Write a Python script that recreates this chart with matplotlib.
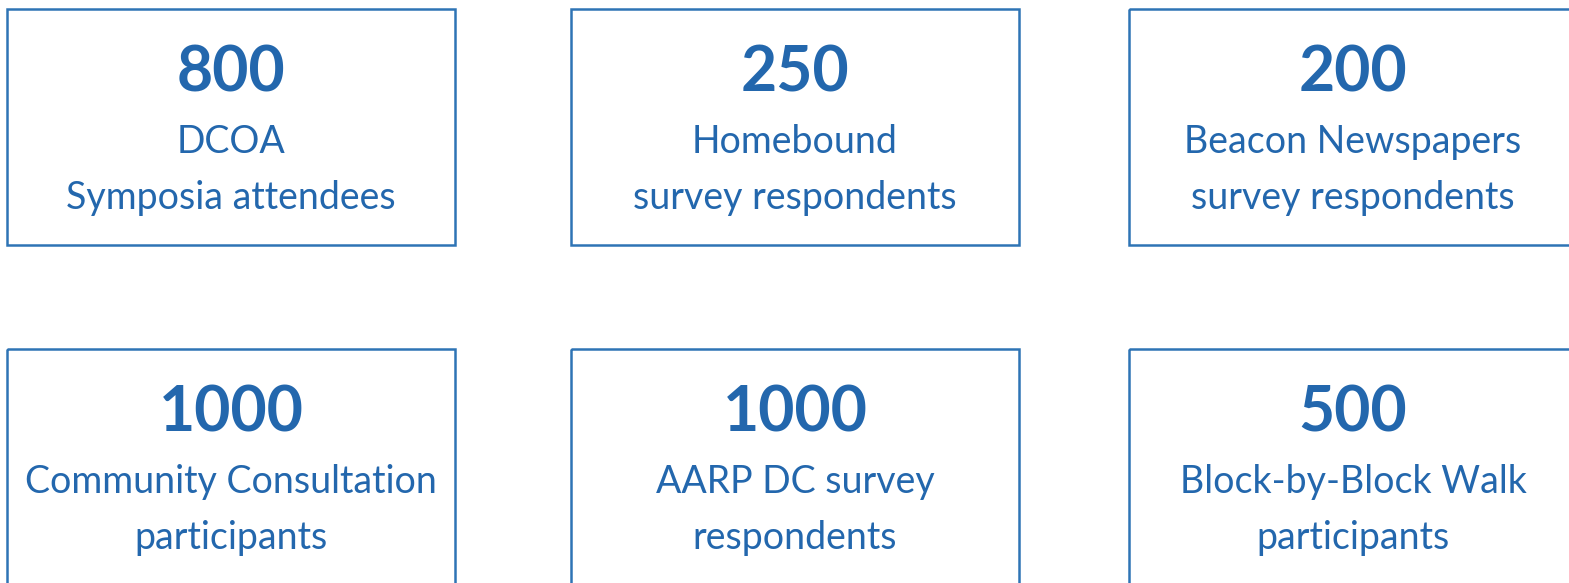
import matplotlib.pyplot as plt
from matplotlib.patches import Rectangle

# counts and descriptions, row by row
counts = ['800', '250', '200', '1000', '1000', '500']
captions = [
    ['DCOA', 'Symposia attendees'],
    ['Homebound', 'survey respondents'],
    ['Beacon Newspapers', 'survey respondents'],
    ['Community Consultation', 'participants'],
    ['AARP DC survey', 'respondents'],
    ['Block-by-Block Walk', 'participants'],
]

blue = '#2367ad'
edge = '#2e74b5'

W, H = 1569, 583
fig = plt.figure(figsize=(W / 100, H / 100), dpi=100)
ax = fig.add_axes([0, 0, 1, 1])
ax.set_xlim(0, W)
ax.set_ylim(H, 0)
ax.axis('off')

col_left = [7, 571, 1129]
row_top = [9, 349]
box_w, box_h = 448, 236

for i, (num, lines) in enumerate(zip(counts, captions)):
    r, c = divmod(i, 3)
    x0, y0 = col_left[c], row_top[r]
    ax.add_patch(Rectangle((x0, y0), box_w, box_h, fill=False,
                           edgecolor=edge, linewidth=1.8))
    cx = x0 + box_w / 2
    ax.text(cx, y0 + 65, num, ha='center', va='center', color=blue,
            fontsize=45, fontweight='bold', family='Lato')
    for k, line in enumerate(lines):
        ax.text(cx, y0 + 133 + k * 56, line, ha='center', va='center',
                color=blue, fontsize=27, family='Lato')

fig.savefig('out.png', dpi=100)
